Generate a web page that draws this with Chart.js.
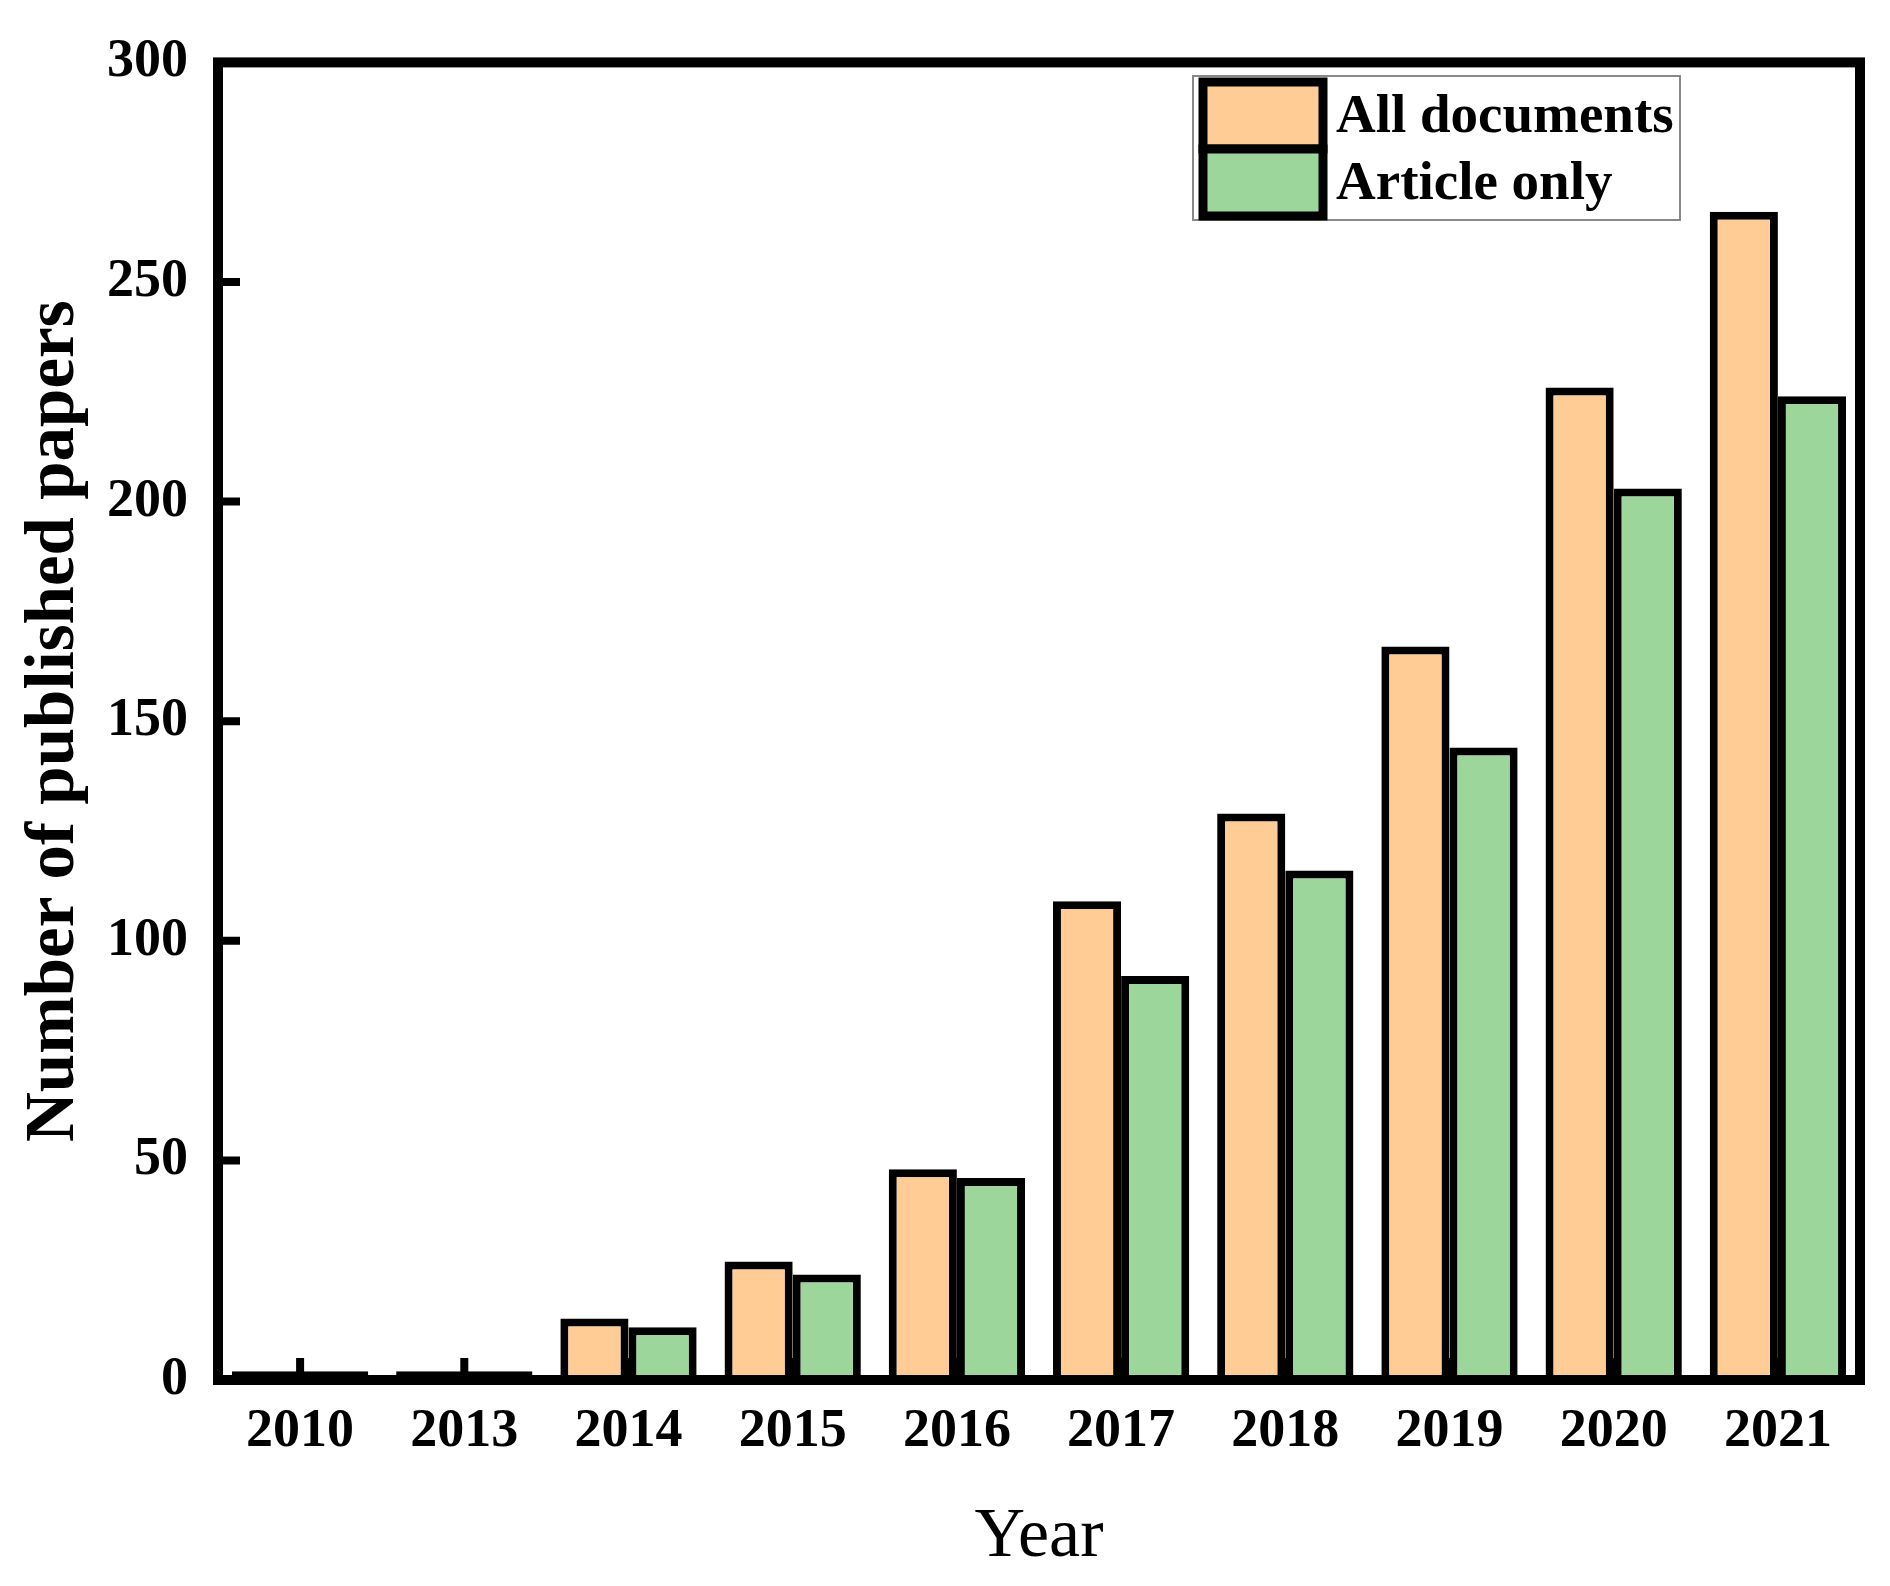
<!DOCTYPE html>
<html>
<head>
<meta charset="utf-8">
<script src="https://cdn.jsdelivr.net/npm/chart.js@4.4.1/dist/chart.umd.min.js"></script>
<style>
  html, body { margin: 0; padding: 0; background: #fff; }
  #wrap { width: 1890px; height: 1586px; }
</style>
</head>
<body>
<div id="wrap"><canvas id="myChart" width="1890" height="1586"></canvas></div>
<script>
// Daten
const years = ['2010', '2013', '2014', '2015', '2016', '2017', '2018', '2019', '2020', '2021'];
const allDocuments = [2, 2, 14, 27, 48, 109, 129, 167, 226, 266];
const articleOnly = [2, 2, 12, 24, 46, 92, 116, 144, 203, 224];
const yTicks = [0, 50, 100, 150, 200, 250, 300];

const serif = '"Liberation Serif", "Times New Roman", serif';

// Rahmen und nach innen zeigende Ticks
const framePlugin = {
  id: 'frame',
  afterDatasetsDraw(chart) {
    const { ctx, chartArea: a, scales } = chart;
    ctx.save();
    ctx.strokeStyle = '#000';
    ctx.lineWidth = 8;
    ctx.beginPath();
    yTicks.forEach(v => {
      const y = scales.y.getPixelForValue(v);
      ctx.moveTo(a.left, y);
      ctx.lineTo(a.left + 22, y);
    });
    years.forEach((c, i) => {
      const x = scales.x.getPixelForValue(i);
      ctx.moveTo(x, a.bottom);
      ctx.lineTo(x, a.bottom - 22);
    });
    ctx.stroke();
    ctx.lineWidth = 10;
    ctx.strokeRect(a.left, a.top, a.right - a.left, a.bottom - a.top);
    ctx.restore();
  }
};

// Legende oben rechts im Diagramm
const legendPlugin = {
  id: 'boxLegend',
  afterDraw(chart) {
    const { ctx } = chart;
    const ds = chart.data.datasets;
    ctx.save();
    ctx.strokeStyle = '#888';
    ctx.lineWidth = 2;
    ctx.strokeRect(1193, 76, 487, 144);
    ds.forEach((d, i) => {
      const y = 82 + i * 67;
      ctx.fillStyle = d.backgroundColor;
      ctx.fillRect(1203, y, 120, 67);
      ctx.strokeStyle = '#000';
      ctx.lineWidth = 9;
      ctx.strokeRect(1203, y, 120, 67);
      ctx.fillStyle = '#000';
      ctx.font = 'bold 55px ' + serif;
      ctx.textBaseline = 'middle';
      ctx.fillText(d.label, 1336, y + 36);
    });
    ctx.restore();
  }
};

const ctx = document.getElementById('myChart').getContext('2d');
new Chart(ctx, {
  type: 'bar',
  data: {
    labels: years,
    datasets: [{
      label: 'All documents',
      data: allDocuments,
      backgroundColor: '#FECC94',
      borderColor: '#000',
      borderWidth: 8,
      borderSkipped: 'bottom'
    }, {
      label: 'Article only',
      data: articleOnly,
      backgroundColor: '#9DD69B',
      borderColor: '#000',
      borderWidth: 8,
      borderSkipped: 'bottom'
    }]
  },
  options: {
    responsive: false,
    animation: false,
    devicePixelRatio: 1,
    layout: { padding: { top: 57, right: 30, left: 0, bottom: 0 } },
    datasets: { bar: { categoryPercentage: 0.83, barPercentage: 1.0 } },
    plugins: { legend: { display: false }, tooltip: { enabled: false } },
    scales: {
      x: {
        grid: { display: false, drawTicks: false },
        border: { display: false },
        ticks: { color: '#000', padding: 20, font: { family: serif, size: 54, weight: 'bold' } },
        title: {
          display: true, text: 'Year', color: '#000',
          font: { family: serif, size: 70 },
          padding: { top: 6, bottom: 6 }
        },
        afterFit(scale) { scale.height = 206; }
      },
      y: {
        min: 0, max: 300,
        grid: { display: false, drawTicks: false },
        border: { display: false },
        afterBuildTicks(scale) { scale.ticks = yTicks.map(v => ({ value: v })); },
        ticks: { color: '#000', padding: 30, font: { family: serif, size: 54, weight: 'bold' } },
        title: {
          display: true, text: 'Number of published papers', color: '#000',
          font: { family: serif, size: 69, weight: 'bold' },
          padding: { top: 14, bottom: 14 }
        },
        afterFit(scale) { scale.width = 218; }
      }
    }
  },
  plugins: [framePlugin, legendPlugin]
});
</script>
</body>
</html>
